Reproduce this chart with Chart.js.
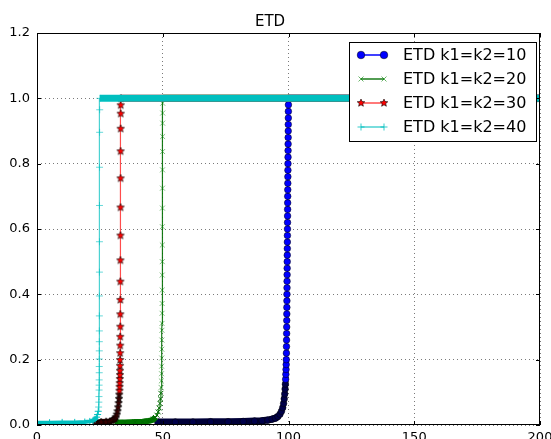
<!DOCTYPE html>
<html>
<head>
<meta charset="utf-8">
<script src="https://cdn.jsdelivr.net/npm/chart.js@4.4.1/dist/chart.umd.min.js"></script>
<style>
  html, body { margin: 0; padding: 0; background: #fff; }
  canvas { display: block; }
</style>
</head>
<body>
<canvas id="etd" width="551" height="439"></canvas>
<script>
// values
const seriesLabels = ['ETD k1=k2=10', 'ETD k1=k2=20', 'ETD k1=k2=30', 'ETD k1=k2=40'];
const xTicks = [0, 50, 100, 150, 200];
const yTicks = [0, 0.2, 0.4, 0.6, 0.8, 1.0, 1.2];

const etd10X = [48, 55, 62, 69, 76, 82, 86.5, 89.5, 91.8, 93.5, 94.8, 95.8, 96.6, 97.2, 97.7, 98.05, 98.3, 98.5, 98.65, 98.77,
  98.87, 98.95, 99.02, 99.08, 99.13, 99.17, 99.2, 99.23, 99.26, 99.29, 99.31, 99.33, 99.35, 99.37, 99.39, 99.41, 99.43, 99.45,
  99.47, 99.49, 99.51, 99.53, 99.55, 99.57, 99.59, 99.61, 99.63, 99.65, 99.67, 99.69, 99.71, 99.73, 99.75, 99.77, 99.79, 99.81,
  99.83, 99.85, 99.87, 99.89, 99.91, 99.93, 99.95, 99.97, 100, 200];
const etd10Y = [0.009, 0.009, 0.009, 0.01, 0.01, 0.011, 0.012, 0.013, 0.015, 0.018, 0.021, 0.026, 0.033, 0.042, 0.053, 0.066, 0.08, 0.095, 0.11, 0.125,
  0.14, 0.155, 0.17, 0.185, 0.2, 0.22, 0.24, 0.26, 0.28, 0.3, 0.32, 0.34, 0.36, 0.38, 0.4, 0.42, 0.44, 0.46,
  0.48, 0.5, 0.52, 0.54, 0.56, 0.58, 0.6, 0.62, 0.64, 0.66, 0.68, 0.7, 0.72, 0.74, 0.76, 0.78, 0.8, 0.82,
  0.84, 0.86, 0.88, 0.9, 0.92, 0.94, 0.96, 0.98, 1.0, 1.0];

const etd20X = [31, 35, 39, 42, 44, 45.3, 46.3, 47.1, 47.7, 48.2, 48.6, 48.9, 49.1, 49.25, 49.35, 49.43, 49.5, 49.55, 49.6, 49.63,
  49.66, 49.69, 49.71, 49.73, 49.75, 49.77, 49.79, 49.81, 49.83, 49.85, 49.87, 49.89, 49.91, 49.93, 49.95, 49.96, 49.98, 49.99, 50, 200];
const etd20Y = [0.008, 0.008, 0.009, 0.01, 0.012, 0.014, 0.018, 0.023, 0.03, 0.04, 0.052, 0.066, 0.08, 0.097, 0.115, 0.135, 0.157, 0.18, 0.205, 0.232,
  0.26, 0.29, 0.311, 0.342, 0.372, 0.413, 0.459, 0.5, 0.551, 0.607, 0.664, 0.725, 0.781, 0.837, 0.883, 0.924, 0.955, 0.985, 1.0, 1.0];

const etd30X = [23, 25.5, 27.5, 29, 30, 30.8, 31.3, 31.7, 32.0, 32.25, 32.45, 32.6, 32.7, 32.78, 32.85, 32.9, 32.95, 32.98, 33.0,
  33.02, 33.04, 33.06, 33.08, 33.1, 33.11, 33.12, 33.14, 33.15, 33.17, 33.19, 33.21, 33.23, 33.25, 33.27, 33.29, 33.3, 33.33, 200];
const etd30Y = [0.008, 0.009, 0.01, 0.011, 0.014, 0.018, 0.024, 0.032, 0.042, 0.054, 0.067, 0.08, 0.093, 0.105, 0.117, 0.128, 0.141, 0.153, 0.166,
  0.181, 0.199, 0.22, 0.243, 0.27, 0.301, 0.339, 0.383, 0.439, 0.504, 0.58, 0.666, 0.755, 0.838, 0.907, 0.953, 0.979, 1.0, 1.0];

const etd40X = [0, 5, 10, 15, 19, 21, 22.3, 23.1, 23.7, 24.1, 24.35, 24.5, 24.6, 24.65, 24.68, 24.7, 24.72, 24.74, 24.75,
  24.76, 24.77, 24.78, 24.79, 24.8, 24.81, 24.82, 24.83, 24.85, 24.87, 24.9, 24.93, 25, 200];
const etd40Y = [0.007, 0.007, 0.008, 0.008, 0.009, 0.011, 0.014, 0.018, 0.024, 0.032, 0.042, 0.055, 0.07, 0.087, 0.107, 0.122, 0.138, 0.16, 0.179,
  0.202, 0.227, 0.255, 0.288, 0.334, 0.395, 0.468, 0.561, 0.672, 0.789, 0.896, 0.965, 1.0, 1.0];

const toPoints = (xs, ys) => xs.map((x, i) => ({ x: x, y: ys[i] }));

// filled five point star, like matplotlib's '*'
function makeStar(r, fill) {
  const c = document.createElement('canvas');
  const s = Math.ceil(r * 2 + 2);
  c.width = c.height = s;
  const g = c.getContext('2d');
  g.beginPath();
  for (let i = 0; i < 10; i++) {
    const rad = i % 2 ? r * 0.45 : r;
    const a = -Math.PI / 2 + i * Math.PI / 5;
    g.lineTo(s / 2 + rad * Math.cos(a), s / 2 + rad * Math.sin(a));
  }
  g.closePath();
  g.fillStyle = fill;
  g.fill();
  g.lineWidth = 0.6;
  g.strokeStyle = '#000';
  g.stroke();
  return c;
}
const star = makeStar(4, '#ff0000');
const darkStar = makeStar(4, '#3a0000');

// thick band where the markers pile up at 0 and 1
function seg(lowColor, lowWidth, topColor) {
  return {
    borderWidth: ctx => {
      const a = ctx.p0.parsed.y, b = ctx.p1.parsed.y;
      if (a >= 0.999 && b >= 0.999) return 7;
      if (a < 0.03 && b < 0.03) return lowWidth;
      return undefined;
    },
    borderColor: ctx => {
      const a = ctx.p0.parsed.y, b = ctx.p1.parsed.y;
      if (a < 0.03 && b < 0.03) return lowColor;
      if (a >= 0.999 && b >= 0.999) return topColor;
      return undefined;
    }
  };
}
// dense markers near the bottom merge into a darker mass
const lowFill = (limit, dark, normal) => ctx => (ctx.parsed && ctx.parsed.y < limit ? dark : normal);

const datasets = [
  {
    label: seriesLabels[0], data: toPoints(etd10X, etd10Y), order: 4,
    borderColor: '#0000ff', borderWidth: 1.2,
    pointStyle: 'circle', pointRadius: 3.3,
    pointBackgroundColor: lowFill(0.14, '#00004a', '#0000ff'),
    pointBorderColor: '#000', pointBorderWidth: 0.5,
    legendFill: '#0000ff', legendStyle: 'circle',
    segment: seg('#000038', 7, '#0000ff')
  },
  {
    label: seriesLabels[1], data: toPoints(etd20X, etd20Y), order: 3,
    borderColor: 'rgba(0,110,0,0.9)', borderWidth: 1.2,
    pointStyle: 'crossRot', pointRadius: 3.5,
    pointBackgroundColor: 'rgba(0,128,0,0.5)',
    pointBorderColor: lowFill(0.1, '#006a00', 'rgba(0,128,0,0.5)'), pointBorderWidth: 1,
    legendFill: 'rgba(0,128,0,0.6)', legendStyle: 'crossRot',
    segment: seg('#007400', 6, '#008000')
  },
  {
    label: seriesLabels[2], data: toPoints(etd30X, etd30Y), order: 2,
    borderColor: 'rgba(255,0,0,0.7)', borderWidth: 1.2,
    pointStyle: ctx => (ctx.parsed && ctx.parsed.y < 0.1 ? darkStar : star), pointRadius: 4,
    legendFill: '#ff0000', legendStyle: star,
    segment: seg('#2b0000', 6, '#ff0000')
  },
  {
    label: seriesLabels[3], data: toPoints(etd40X, etd40Y), order: 1,
    borderColor: 'rgba(0,191,191,0.7)', borderWidth: 1.2,
    pointStyle: 'cross', pointRadius: 3.5,
    pointBackgroundColor: 'rgba(0,191,191,0.6)',
    pointBorderColor: lowFill(0.05, '#00bfbf', 'rgba(0,191,191,0.6)'), pointBorderWidth: 1,
    legendFill: 'rgba(0,191,191,0.8)', legendStyle: 'cross',
    segment: seg('#00bfbf', 4, '#00bfbf')
  }
];
datasets.forEach(d => { d.clip = 0; d.fill = false; d.tension = 0; });

// black box round the axes, with matplotlib's inward ticks
const frame = {
  id: 'frame',
  afterDatasetsDraw(chart) {
    const { ctx, chartArea: a, scales: { x, y } } = chart;
    ctx.save();
    ctx.strokeStyle = '#000';
    ctx.lineWidth = 1;
    ctx.strokeRect(a.left + 0.5, a.top + 0.5, a.right - a.left - 1, a.bottom - a.top - 1);
    ctx.beginPath();
    xTicks.forEach(v => {
      const px = Math.round(x.getPixelForValue(v)) + 0.5;
      ctx.moveTo(px, a.bottom); ctx.lineTo(px, a.bottom - 4);
      ctx.moveTo(px, a.top); ctx.lineTo(px, a.top + 4);
    });
    yTicks.forEach(v => {
      const py = Math.round(y.getPixelForValue(v)) + 0.5;
      ctx.moveTo(a.left, py); ctx.lineTo(a.left + 4, py);
      ctx.moveTo(a.right, py); ctx.lineTo(a.right - 4, py);
    });
    ctx.stroke();
    ctx.restore();
  }
};

// legend box in the upper right corner
const boxLegend = {
  id: 'boxLegend',
  afterDraw(chart) {
    const { ctx, chartArea: a } = chart;
    const right = a.right - 3, top = a.top + 9;
    const w = 188, h = 100, rowH = 24;
    const left = right - w;
    ctx.save();
    ctx.fillStyle = '#fff';
    ctx.fillRect(left, top, w, h);
    ctx.strokeStyle = '#000';
    ctx.lineWidth = 1;
    ctx.strokeRect(left + 0.5, top + 0.5, w - 1, h - 1);
    ctx.font = '16px "DejaVu Sans"';
    ctx.textBaseline = 'middle';
    chart.data.datasets.forEach((ds, i) => {
      const cy = top + 13 + i * rowH;
      const x0 = left + 12, x1 = left + 35;
      ctx.strokeStyle = ds.borderColor;
      ctx.lineWidth = 1.5;
      ctx.beginPath();
      ctx.moveTo(x0, cy); ctx.lineTo(x1, cy);
      ctx.stroke();
      [x0, x1].forEach(px => {
        const round = ds.legendStyle === 'circle';
        ctx.fillStyle = ds.legendFill;
        ctx.strokeStyle = round ? '#000' : ds.legendFill;
        ctx.lineWidth = round ? 0.5 : 1;
        Chart.helpers.drawPoint(ctx, {
          pointStyle: ds.legendStyle, radius: round ? 3.8 : 3.5,
          rotation: 0, borderWidth: ctx.lineWidth
        }, px, cy);
      });
      ctx.fillStyle = '#000';
      ctx.fillText(ds.label, left + 54, cy + 1);
    });
    ctx.restore();
  }
};

const zeroPad = s => { s.paddingLeft = 0; s.paddingRight = 0; s.paddingTop = 0; s.paddingBottom = 0; };

new Chart(document.getElementById('etd').getContext('2d'), {
  type: 'line',
  data: { datasets: datasets },
  options: {
    responsive: false,
    animation: false,
    devicePixelRatio: 1,
    layout: { padding: { left: 0, right: 11, top: 0, bottom: 0 } },
    plugins: {
      legend: { display: false },
      tooltip: { enabled: false },
      title: {
        display: true, text: 'ETD', color: '#000',
        font: { family: 'DejaVu Sans', size: 15, weight: 'normal', lineHeight: 1.2 },
        padding: { top: 13, bottom: 2 }
      }
    },
    scales: {
      x: {
        type: 'linear', min: xTicks[0], max: xTicks[xTicks.length - 1],
        afterBuildTicks: s => { s.ticks = xTicks.map(v => ({ value: v })); },
        afterFit: s => { s.height = 14; zeroPad(s); },
        ticks: { color: '#000', padding: 5, maxRotation: 0, font: { family: 'DejaVu Sans', size: 13 } },
        grid: { color: '#7a7a7a', lineWidth: 1, drawTicks: false },
        border: { display: false, dash: [1, 3] }
      },
      y: {
        type: 'linear', min: yTicks[0], max: yTicks[yTicks.length - 1],
        afterBuildTicks: s => { s.ticks = yTicks.map(v => ({ value: v })); },
        afterFit: s => { s.width = 37; zeroPad(s); },
        ticks: { color: '#000', padding: 7, font: { family: 'DejaVu Sans', size: 13 }, callback: v => v.toFixed(1) },
        grid: { color: '#7a7a7a', lineWidth: 1, drawTicks: false },
        border: { display: false, dash: [1, 3] }
      }
    }
  },
  plugins: [frame, boxLegend]
});
</script>
</body>
</html>
